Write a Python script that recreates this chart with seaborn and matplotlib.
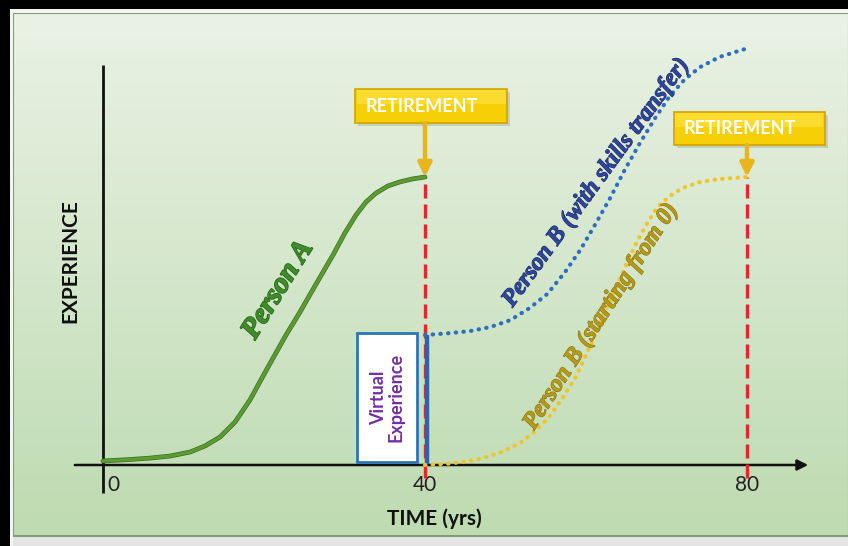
import numpy as np
import pandas as pd
import matplotlib
matplotlib.use("Agg")
import matplotlib.pyplot as plt
import seaborn as sns
from matplotlib.patches import Rectangle
import matplotlib.patheffects as pe

# ---------------- data (years, experience) ----------------
person_a_years = [0, 3.35, 5.84, 8.32, 10.81, 12.67, 14.53, 16.4, 18.26, 19.75, 21.0,
                  22.73, 24.47, 26.46, 28.57, 30.06, 31.43, 32.67, 33.91, 35.4,
                  36.89, 38.39, 40.0]
person_a_exp = [1.4, 1.9, 2.4, 3.1, 4.5, 6.6, 9.7, 14.9, 22.6, 30.2, 36.5,
                45.1, 53.1, 62.8, 72.9, 80.6, 86.8, 91.3, 94.4, 96.9,
                98.3, 99.3, 100.0]

person_b_skill_years = [40.0, 43.1, 45.6, 48.1, 50.6, 53.0, 55.2, 57.4, 59.3, 61.1, 63.0,
                        64.8, 66.7, 68.6, 70.4, 72.3, 74.2, 76.6, 79.7]
person_b_skill_exp = [45.1, 45.8, 46.5, 47.9, 50.3, 54.5, 59.4, 67.0, 74.7, 83.3, 92.7,
                      102.4, 111.8, 120.5, 128.1, 134.0, 138.2, 141.7, 144.4]

person_b_zero_years = [40.0, 43.1, 46.2, 49.3, 51.8, 53.9, 55.5, 57.1, 58.8, 60.5, 62.0,
                       63.4, 64.8, 66.3, 67.7, 68.9, 70.4, 72.0, 74.2, 76.6, 80.0]
person_b_zero_exp = [0.0, 0.5, 1.7, 4.2, 7.6, 12.2, 17.0, 23.3, 30.9, 41.3, 51.0,
                     59.4, 68.4, 77.4, 84.4, 89.6, 93.4, 96.2, 98.3, 99.3, 100.0]

retirement_years = [40, 80]
retirement_exp = [100, 100]
virtual_exp_top = 45.1
tick_values = [0, 40, 80]
tick_labels = ["0", "40", "80"]

# ---------------- styling ----------------
sns.set_theme(style="white")
plt.rcParams['font.family'] = ['Lato', 'DejaVu Sans']

W, H = 848, 546
fig = plt.figure(figsize=(W / 100, H / 100), dpi=100)
fig.patch.set_facecolor('#e4e4e4')

# background / frame axes in pixel units
bg = fig.add_axes([0, 0, 1, 1], zorder=0)
bg.set_xlim(0, W)
bg.set_ylim(H, 0)
bg.axis('off')
top_c = np.array([234, 242, 229]) / 255
bot_c = np.array([190, 219, 177]) / 255
t = np.linspace(0, 1, 256)[:, None]
grad = top_c[None, :] * (1 - t[..., None]) + bot_c[None, :] * t[..., None]
grad = np.repeat(grad, 2, axis=1)
bg.imshow(grad, extent=[13, W, 536, 13], aspect='auto', interpolation='bilinear', zorder=1)
bg.add_patch(Rectangle((13, 13), W - 12, 523, fill=False, ec='#7f9f72', lw=1.5, zorder=2))
bg.add_patch(Rectangle((9, 9), W, 3.5, fc='#f4f4f4', ec='none', zorder=2))
bg.add_patch(Rectangle((9, 9), 3.5, H, fc='#f4f4f4', ec='none', zorder=2))
bg.add_patch(Rectangle((0, 0), W, 9, fc='black', ec='none', zorder=3))
bg.add_patch(Rectangle((0, 0), 9.5, H, fc='black', ec='none', zorder=3))

# main data axes, mapped so that x=0 -> px 103, y=0 -> px 465
XS, YS = 8.05, 2.88
ax = fig.add_axes([0, 0, 1, 1], zorder=1)
ax.patch.set_alpha(0)

# curves
df = pd.concat([
    pd.DataFrame({'year': person_a_years, 'exp': person_a_exp, 'who': 'Person A'}),
    pd.DataFrame({'year': person_b_skill_years, 'exp': person_b_skill_exp, 'who': 'B skills'}),
    pd.DataFrame({'year': person_b_zero_years, 'exp': person_b_zero_exp, 'who': 'B zero'}),
], ignore_index=True)

sns.lineplot(data=df[df.who == 'Person A'], x='year', y='exp', sort=False, estimator=None,
             color='#5c9a34', lw=2.4, ax=ax, zorder=6, legend=False,
             path_effects=[pe.Stroke(linewidth=3.4, foreground='#3c7020'), pe.Normal()])
sns.lineplot(data=df[df.who == 'B skills'], x='year', y='exp', sort=False, estimator=None,
             color='#2c6fc0', lw=3.0, linestyle=(0, (0.1, 1.75)), dash_capstyle='round',
             ax=ax, zorder=6, legend=False)
sns.lineplot(data=df[df.who == 'B zero'], x='year', y='exp', sort=False, estimator=None,
             color='#f0c52a', lw=3.0, linestyle=(0, (0.1, 1.75)), dash_capstyle='round',
             ax=ax, zorder=6, legend=False)
ax.set_xlabel('')
ax.set_ylabel('')
ax.set_xlim(-103 / XS, (W - 103) / XS)
ax.set_ylim((465 - H) / YS, 465 / YS)
ax.axis('off')

# axes lines
ax.plot([0, 0], [-9.7, 138.9], color='#111111', lw=2.0, solid_capstyle='butt', zorder=3)
ax.annotate('', xy=(87.6, 0), xytext=(-3.5, 0),
            arrowprops=dict(arrowstyle='-|>', color='#111111', lw=1.8,
                            mutation_scale=16, shrinkA=0, shrinkB=0), zorder=3)

# retirement red dashed lines
for x, y in zip(retirement_years, retirement_exp):
    ax.plot([x, x], [-4.5, y], color='#e5262b', lw=2.4, linestyle=(0, (4.2, 1.8)),
            zorder=4)

# virtual experience box
ax.add_patch(Rectangle((31.55, 1.0), 7.45, 44.8, fc='white', ec='#2e75b6', lw=2.0, zorder=5))
ax.text(35.3, 23.4, "Virtual\nExperience", rotation=90, ha='center', va='center',
        color='#7030a0', fontsize=13, fontweight='bold', linespacing=1.0, zorder=6)
ax.plot([40.3, 40.3], [0.5, virtual_exp_top], color='#2e62b0', lw=3.2,
        solid_capstyle='butt', zorder=5)

# retirement boxes with arrows
boxes = [(31.3, 118.75, 18.9, 11.8), (70.9, 111.1, 18.8, 11.5)]
for (bx, by, bw, bh), rx, ry in zip(boxes, retirement_years, retirement_exp):
    ax.add_patch(Rectangle((bx + 0.35, by - 1.2), bw, bh, fc='#9a9a7a', ec='none',
                           alpha=0.35, zorder=7))
    ax.add_patch(Rectangle((bx, by), bw, bh, fc='#f7cf06', ec='#d2a200', lw=1.2, zorder=8))
    ax.add_patch(Rectangle((bx + 0.2, by + bh * 0.55), bw - 0.4, bh * 0.42, fc='#ffe44a',
                           ec='none', alpha=0.6, zorder=8))
    ax.text(bx + 1.25, by + bh / 2, "RETIREMENT", color='white', fontsize=13,
            fontweight='bold', ha='left', va='center', zorder=9)
    ax.annotate('', xy=(rx, ry), xytext=(rx, by),
                arrowprops=dict(arrowstyle='-|>', color='#eab41c', lw=3.2,
                                mutation_scale=20, shrinkA=0, shrinkB=0), zorder=8)

# tick labels
ax.text(1.25, -6.9, tick_labels[0], ha='center', va='center', fontsize=15, color='#222222')
for v, lab in zip(tick_values[1:], tick_labels[1:]):
    ax.text(v, -6.9, lab, ha='center', va='center', fontsize=15, color='#222222')

# axis titles
ax.text(41.2, -18.8, "TIME (yrs)", ha='center', va='center', fontsize=15,
        fontweight='bold', color='#111111')
ax.text(-4.1, 70.8, "EXPERIENCE", rotation=90, ha='center', va='center', fontsize=15,
        fontweight='bold', color='#111111')

# curve labels
script = ['Liberation Serif', 'DejaVu Serif']
ax.text(21.7, 60.8, "Person A", rotation=58, ha='center', va='center', fontsize=21,
        fontstyle='italic', fontweight='bold', family=script, color='#3f8c2a',
        path_effects=[pe.withStroke(linewidth=1.2, foreground='#2a6a18')], zorder=7)
ax.text(61.3, 98.0, "Person B (with skills transfer)", rotation=54, ha='center',
        va='center', fontsize=17.5, fontstyle='italic', fontweight='bold', family=script,
        color='#2f4596', path_effects=[pe.withStroke(linewidth=0.8, foreground='#1f2f70')],
        zorder=7)
ax.text(61.9, 51.5, "Person B (starting from 0)", rotation=57, ha='center', va='center',
        fontsize=17.5, fontstyle='italic', fontweight='bold', family=script,
        color='#b39a1a', path_effects=[pe.withStroke(linewidth=0.8, foreground='#8a7410')],
        zorder=7)

fig.savefig('out.png', dpi=100)
